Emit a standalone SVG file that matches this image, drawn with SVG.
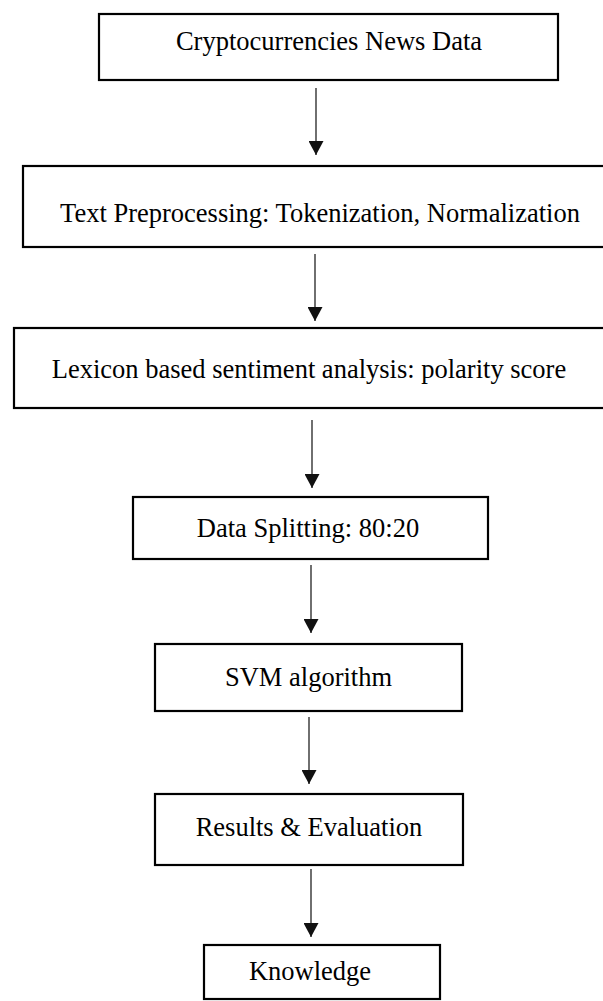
<svg xmlns="http://www.w3.org/2000/svg" width="603" height="1001" viewBox="0 0 603 1001">
<style>
.box{fill:#fff;stroke:#000;stroke-width:2.2}
.lbl{font-family:"Liberation Serif","Times New Roman",serif;font-size:26.5px;fill:#000;text-anchor:middle}
.con{stroke:#222;stroke-width:1.3;fill:none}
</style>
<defs>
<marker id="ah" viewBox="0 0 14 15" refX="14" refY="7.5" markerWidth="14" markerHeight="15" markerUnits="userSpaceOnUse" orient="auto">
<path d="M0,0 L14,7.5 L0,15 Z" fill="#111"/>
</marker>
</defs>
<rect width="603" height="1001" fill="#fff"/>
<g id="n1"><rect class="box" x="99" y="14" width="459" height="66"/><text class="lbl" x="329" y="50">Cryptocurrencies News Data</text></g>
<g id="n2"><rect class="box" x="23" y="166" width="600" height="81"/><text class="lbl" x="320" y="222">Text Preprocessing: Tokenization, Normalization</text></g>
<g id="n3"><rect class="box" x="14" y="328" width="610" height="80"/><text class="lbl" x="309" y="378">Lexicon based sentiment analysis: polarity score</text></g>
<g id="n4"><rect class="box" x="133" y="497" width="355" height="62"/><text class="lbl" x="308" y="537">Data Splitting: 80:20</text></g>
<g id="n5"><rect class="box" x="155" y="644" width="307" height="67"/><text class="lbl" x="308.5" y="686">SVM algorithm</text></g>
<g id="n6"><rect class="box" x="155" y="794" width="308" height="71"/><text class="lbl" x="309" y="836">Results &amp; Evaluation</text></g>
<g id="n7"><rect class="box" x="204" y="945" width="236" height="54"/><text class="lbl" x="310" y="980">Knowledge</text></g>
<g id="connectors">
<line class="con" x1="316" y1="88" x2="316" y2="155" marker-end="url(#ah)"/>
<line class="con" x1="315" y1="254" x2="315" y2="321" marker-end="url(#ah)"/>
<line class="con" x1="312" y1="420" x2="312" y2="488" marker-end="url(#ah)"/>
<line class="con" x1="311" y1="565" x2="311" y2="633" marker-end="url(#ah)"/>
<line class="con" x1="309" y1="717" x2="309" y2="784" marker-end="url(#ah)"/>
<line class="con" x1="311" y1="869" x2="311" y2="937" marker-end="url(#ah)"/>
</g>
</svg>
